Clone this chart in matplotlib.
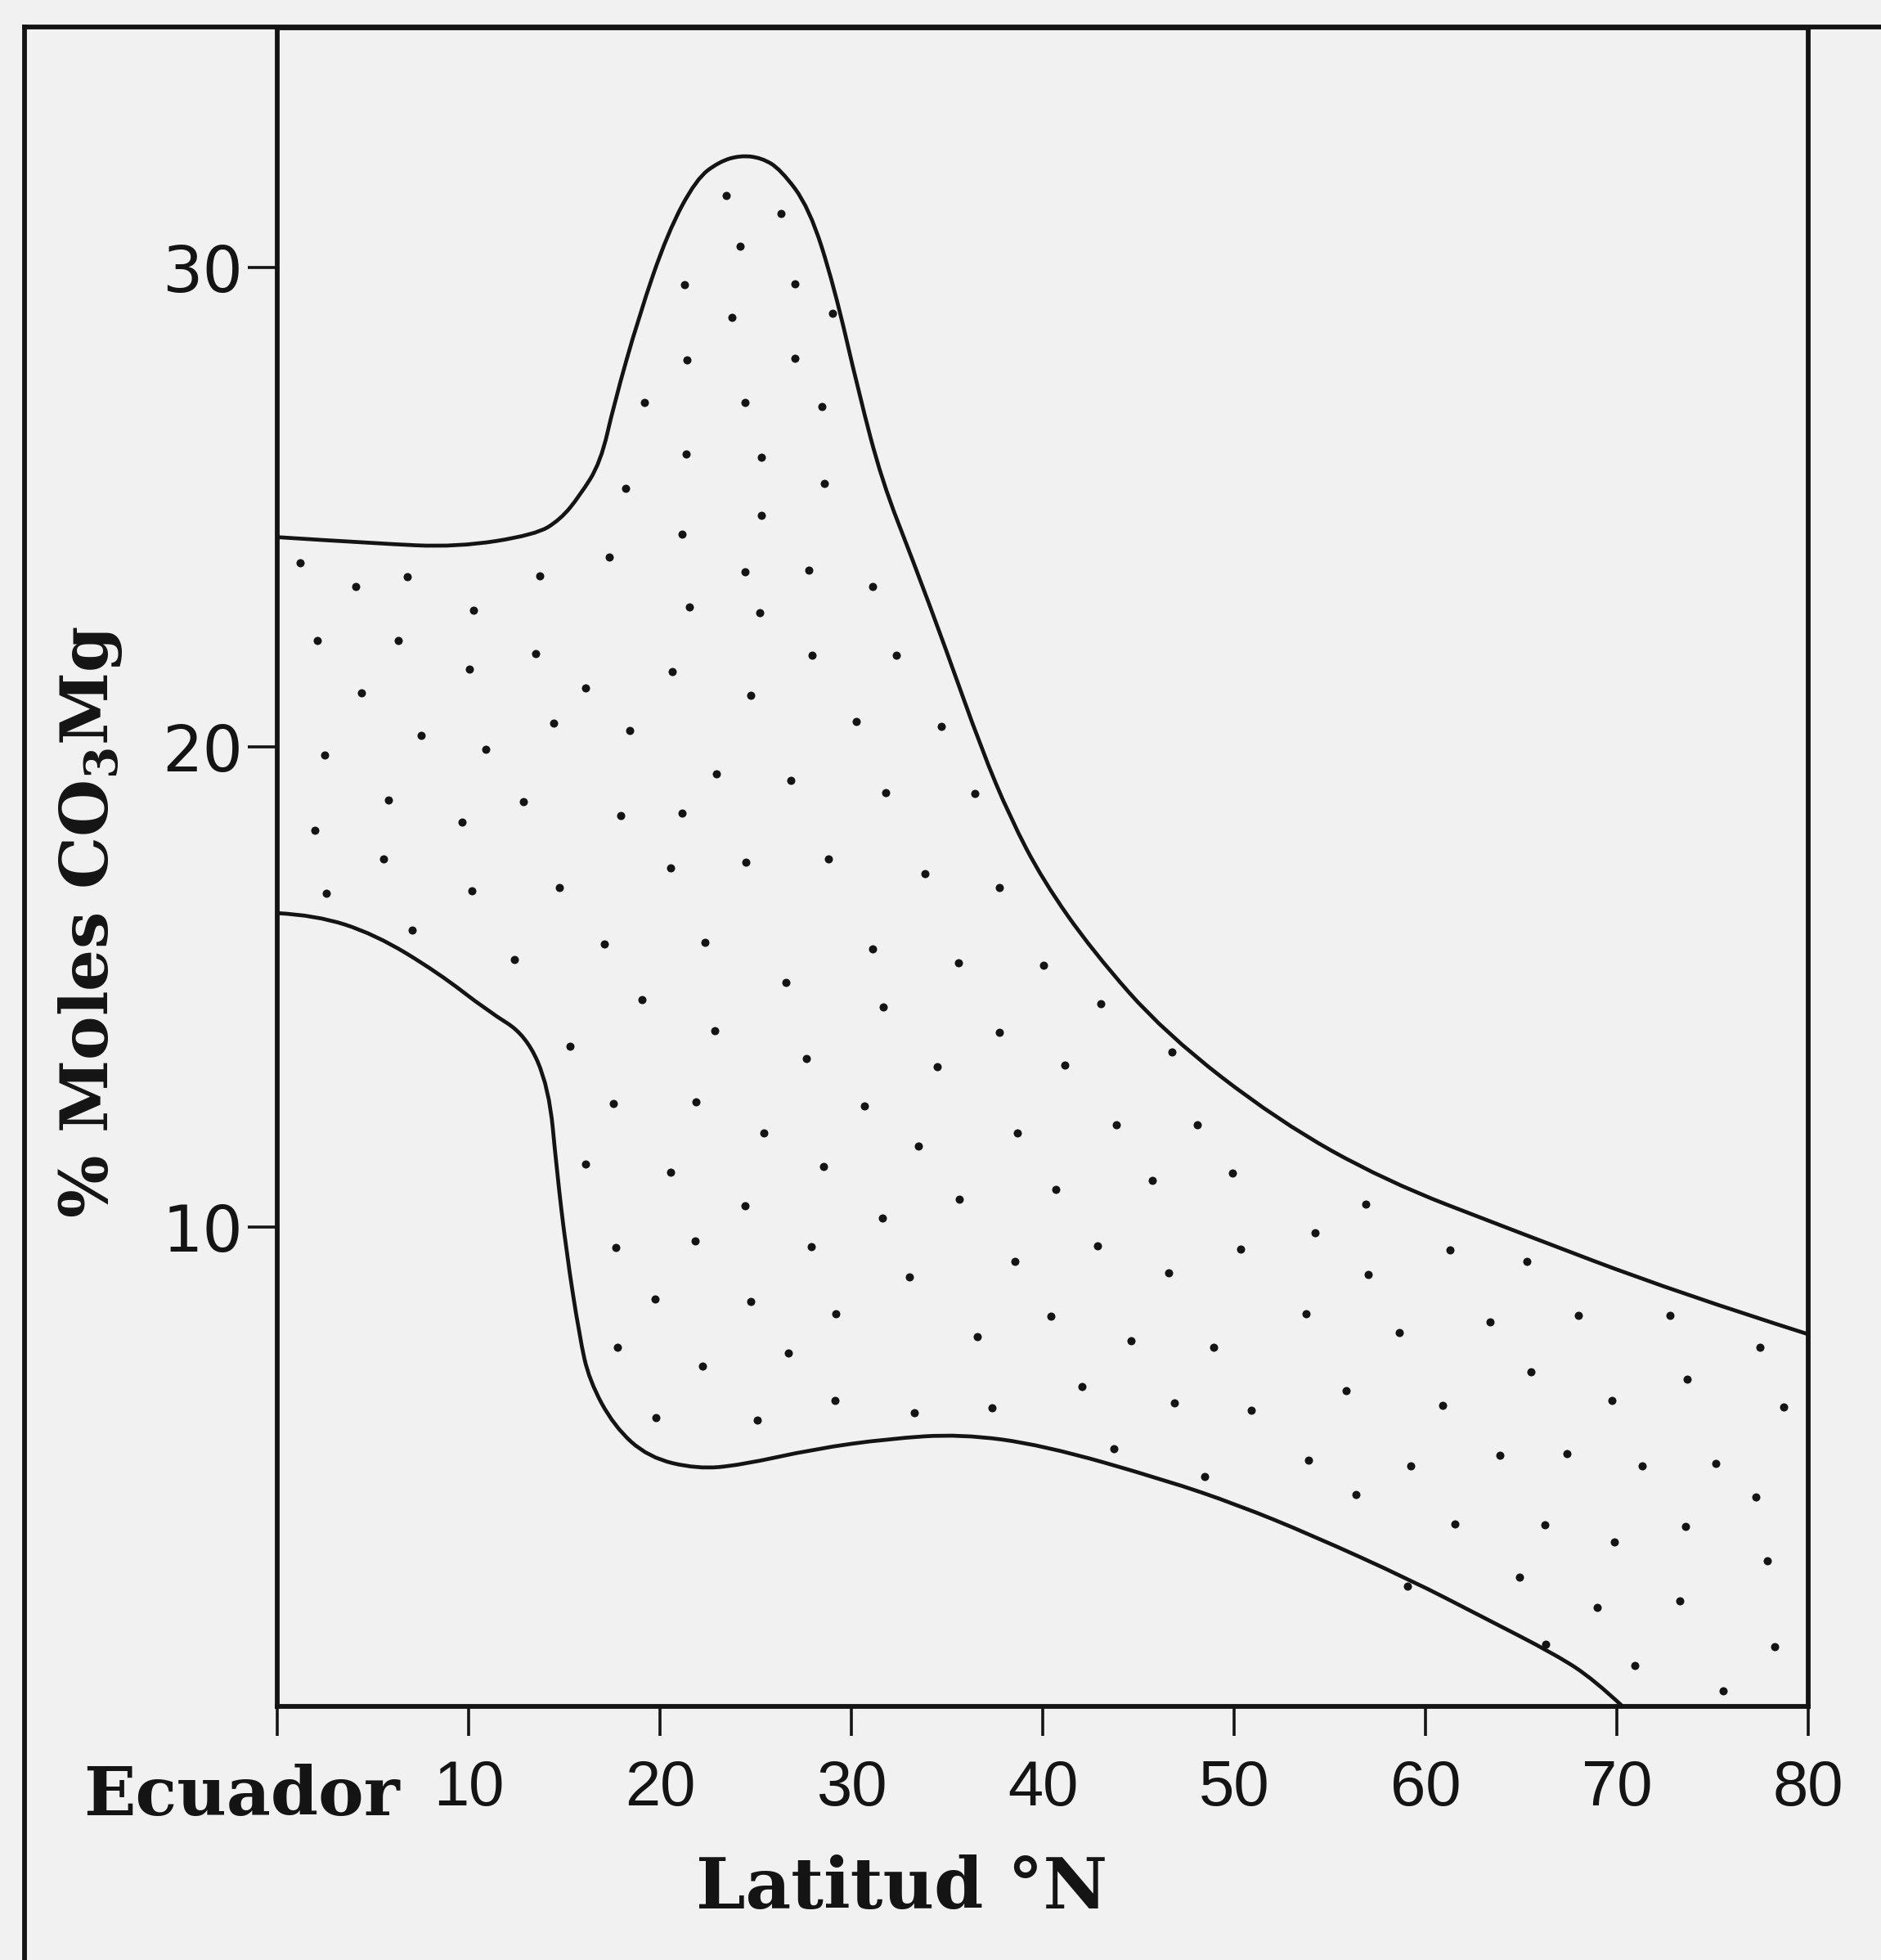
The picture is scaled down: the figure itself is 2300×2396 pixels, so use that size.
#!/usr/bin/env python3
# Mg content of calcite vs latitude: stippled band between two boundary curves

import matplotlib
matplotlib.use("Agg")
import matplotlib.pyplot as plt
from matplotlib.lines import Line2D
from matplotlib.path import Path
from matplotlib.patches import PathPatch
from matplotlib.transforms import blended_transform_factory

# Upper boundary of the band (latitude N, % moles CO3Mg)
upper_lat = [0, 5.1, 9.4, 13.5, 14.8, 15.8, 16.9, 17.6, 18.9, 20.4, 21.9, 23.1, 24.2, 25.3,
             26.3, 27.8, 29.1, 30.4, 31.6, 33.2, 34.9, 36.8, 38.3, 40.0, 42.6, 46.4, 52.3,
             57.9, 64.3, 73.2, 80]
upper_mg = [24.38, 24.25, 24.17, 24.43, 24.75, 25.24, 25.94, 27.16, 28.99, 30.73, 31.85, 32.21,
            32.34, 32.29, 32.05, 31.25, 29.61, 27.37, 25.55, 23.91, 22.09, 19.96, 18.53, 17.23,
            15.75, 14.03, 12.21, 10.96, 9.97, 8.62, 7.76]

# Lower boundary of the band
lower_lat = [0, 2.0, 5.1, 8.4, 11.0, 13.0, 14.2, 14.6, 15.1, 15.8, 16.3, 17.6, 19.4, 21.95,
             24.2, 28.1, 31.9, 35.7, 40.0, 46.4, 50.2, 54.0, 59.2, 63.0, 66.8, 68.8, 70.3]
lower_mg = [16.54, 16.5, 16.1, 15.3, 14.5, 14.0, 12.9, 11.2, 9.5, 7.7, 6.8, 5.84, 5.19, 4.95,
            5.03, 5.37, 5.58, 5.68, 5.45, 4.72, 4.2, 3.58, 2.64, 1.86, 1.08, 0.56, 0.0]

# Stipple dots inside the band
dot_lat = [23.45, 26.32, 24.17, 21.29, 27.04, 23.78, 29.0, 21.42, 27.04, 19.2, 24.43, 28.48,
           21.36, 25.28, 18.22, 28.61, 25.28, 21.16, 17.37, 27.76, 1.18, 4.11, 6.79, 13.72,
           24.43, 31.09, 10.25, 21.55, 2.09, 6.34, 13.52, 25.21, 27.96, 32.33, 10.06, 20.64,
           4.38, 16.13, 24.76, 30.24, 34.68, 7.51, 14.43, 18.42, 2.48, 10.91, 22.93, 26.85,
           5.81, 9.67, 17.96, 31.81, 36.45, 1.96, 12.87, 21.16, 5.55, 24.49, 28.8, 33.83,
           2.55, 10.19, 14.76, 20.57, 37.75, 7.05, 12.41, 17.11, 22.34, 31.09, 35.6, 40.04,
           26.58, 19.07, 31.68, 43.04, 22.86, 37.75, 15.28, 27.63, 34.49, 41.15, 46.77, 17.57,
           21.88, 30.7, 25.41, 33.51, 38.67, 43.83, 48.07, 16.13, 20.57, 28.54, 45.72, 49.9,
           40.69, 24.43, 31.61, 35.66, 56.89, 17.7, 27.89, 21.82, 38.54, 42.85, 50.36, 54.21,
           61.27, 65.32, 33.05, 46.57, 57.02, 19.73, 24.76, 29.2, 36.58, 40.43, 44.61, 53.76,
           58.65, 63.36, 68.0, 72.76, 17.77, 26.71, 48.92, 77.47, 22.21, 65.51, 73.68, 55.85,
           19.79, 25.08, 29.13, 33.31, 37.36, 42.06, 46.9, 50.88, 60.88, 69.76, 78.71, 43.7,
           53.89, 59.24, 63.88, 67.41, 71.33, 75.18, 48.47, 56.37, 61.53, 66.23, 69.89, 73.61,
           77.27, 59.05, 64.92, 77.86, 68.97, 73.29, 66.3, 78.25, 70.93, 75.57]
dot_mg = [31.51, 31.13, 30.45, 29.64, 29.67, 28.97, 29.05, 28.08, 28.11, 27.19, 27.19, 27.11,
          26.12, 26.05, 25.4, 25.5, 24.83, 24.44, 23.97, 23.69, 23.84, 23.35, 23.55, 23.58,
          23.66, 23.35, 22.86, 22.93, 22.22, 22.22, 21.96, 22.81, 21.91, 21.91, 21.63, 21.58,
          21.14, 21.24, 21.09, 20.53, 20.43, 20.25, 20.51, 20.35, 19.83, 19.96, 19.44, 19.31,
          18.9, 18.43, 18.58, 19.05, 19.03, 18.27, 18.87, 18.63, 17.67, 17.6, 17.67, 17.36,
          16.95, 17.0, 17.08, 17.49, 17.08, 16.19, 15.57, 15.9, 15.93, 15.8, 15.51, 15.46,
          15.1, 14.73, 14.58, 14.65, 14.08, 14.06, 13.77, 13.51, 13.33, 13.38, 13.64, 12.57,
          12.6, 12.52, 11.95, 11.69, 11.95, 12.13, 12.13, 11.3, 11.14, 11.25, 10.96, 11.12,
          10.78, 10.44, 10.18, 10.57, 10.47, 9.56, 9.58, 9.71, 9.27, 9.61, 9.53, 9.87,
          9.51, 9.27, 8.96, 9.04, 9.01, 8.49, 8.44, 8.18, 7.71, 8.13, 7.63, 8.18,
          7.79, 8.02, 8.15, 8.15, 7.48, 7.37, 7.48, 7.48, 7.09, 6.98, 6.83, 6.59,
          6.02, 5.97, 6.38, 6.12, 6.23, 6.67, 6.33, 6.18, 6.28, 6.38, 6.25, 5.37,
          5.14, 5.01, 5.24, 5.27, 5.01, 5.06, 4.8, 4.41, 3.81, 3.78, 3.42, 3.76,
          4.36, 2.51, 2.69, 3.03, 2.07, 2.2, 1.29, 1.24, 0.85, 0.33]

x_ticks = [10, 20, 30, 40, 50, 60, 70, 80]
y_ticks = [10, 20, 30]

PAPER = "#f1f1f1"
INK = "#141414"


def smooth_path(xs, ys):
    """
    Build a smooth path through the digitised points using quadratic
    Bezier segments (each point acts as a control point, segments join
    at the midpoints), so the pen curve has no corners.
    """
    pts = list(zip(xs, ys))
    verts = [pts[0]]
    codes = [Path.MOVETO]
    for i in range(1, len(pts) - 1):
        mid = ((pts[i][0] + pts[i + 1][0]) / 2, (pts[i][1] + pts[i + 1][1]) / 2)
        if i == len(pts) - 2:
            mid = pts[-1]
        verts += [pts[i], mid]
        codes += [Path.CURVE3, Path.CURVE3]
    return Path(verts, codes)


def plot_band():
    """Draw the latitude / Mg band figure and save it as out.png."""
    fig = plt.figure(figsize=(23, 23.96), dpi=100, facecolor=PAPER)
    ax = fig.add_axes([0.1474, 0.1294, 0.8139, 0.8564], facecolor=PAPER)

    # boundary curves and stipple
    for xs, ys in [(upper_lat, upper_mg), (lower_lat, lower_mg)]:
        ax.add_patch(PathPatch(smooth_path(xs, ys), fill=False, edgecolor=INK, lw=3.4,
                               joinstyle="round", capstyle="round"))
    ax.scatter(dot_lat, dot_mg, s=52, color=INK, linewidths=0, zorder=3)

    ax.set_xlim(0, 80)
    ax.set_ylim(0, 35)

    for side in ax.spines.values():
        side.set_linewidth(4.2)
        side.set_color(INK)

    ax.set_xticks([0] + x_ticks)
    ax.set_xticklabels([""] + [str(v) for v in x_ticks],
                       fontfamily="Liberation Sans", fontsize=56)
    ax.set_yticks(y_ticks)
    ax.set_yticklabels([str(v) for v in y_ticks], fontfamily="DejaVu Sans", fontsize=56)
    ax.tick_params(axis="x", direction="out", length=26, width=2.6, pad=20, colors=INK)
    ax.tick_params(axis="y", direction="out", length=26, width=2.6, pad=4, colors=INK)

    # "Ecuador" sits left of the 10 label, under the zero tick
    trans = blended_transform_factory(ax.transData, ax.transAxes)
    ax.text(6.4, -0.0648, "Ecuador", transform=trans, ha="right", va="baseline",
            fontfamily="DejaVu Serif", fontweight="bold", fontsize=60, color=INK)

    fig.text(0.408 * 0.8139 + 0.1474, 1 - 2333 / 2396, "Latitud °N", ha="center",
             va="baseline", fontfamily="DejaVu Serif", fontweight="bold", fontsize=62,
             color=INK)
    fig.text(0.048, 0.5296, r"% Moles CO$_{\mathbf{3}}$Mg", rotation=90, ha="center",
             va="center", fontfamily="DejaVu Serif", fontweight="bold", fontsize=58,
             color=INK)

    # outer frame of the scanned page (top and left edges only are visible)
    top_y = 1 - 33 / 2396
    left_x = 30 / 2300
    fig.add_artist(Line2D([left_x, 1.0], [top_y, top_y], transform=fig.transFigure,
                          color=INK, lw=4.2))
    fig.add_artist(Line2D([left_x, left_x], [0.0, top_y], transform=fig.transFigure,
                          color=INK, lw=4.2))

    fig.savefig("out.png", dpi=100, facecolor=PAPER)


def main():
    plt.rcParams["mathtext.fontset"] = "dejavuserif"
    plot_band()


if __name__ == "__main__":
    main()
